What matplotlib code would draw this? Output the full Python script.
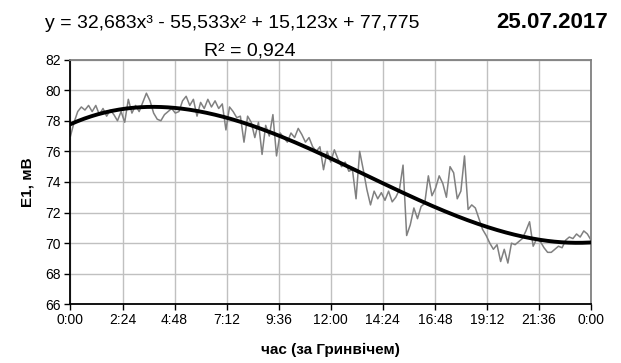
import numpy as np
import matplotlib
matplotlib.use('Agg')
import matplotlib.pyplot as plt

plt.rcParams['font.family'] = ['Liberation Sans', 'DejaVu Sans']

# E1 readings, every 10 minutes from 0:00 to 24:00 (UT), mV
e1_mv = [
    77.0, 77.9, 78.6, 78.9, 78.7, 79.0, 78.6, 79.0, 78.4, 78.8,
    78.3, 78.7, 78.4, 78.0, 78.6, 77.9, 79.4, 78.5, 79.0, 78.6,
    79.2, 79.8, 79.3, 78.5, 78.1, 78.0, 78.4, 78.6, 78.8, 78.5,
    78.6, 79.3, 79.6, 79.0, 79.4, 78.3, 79.2, 78.8, 79.4, 78.9,
    79.3, 78.8, 79.1, 77.4, 78.9, 78.6, 78.2, 78.3, 76.6, 78.3,
    77.9, 76.9, 77.9, 75.8, 77.7, 77.0, 78.4, 75.7, 77.2, 76.9,
    76.6, 77.2, 76.9, 77.5, 77.1, 76.6, 76.9, 76.3, 76.0, 76.3,
    74.8, 76.0, 75.3, 76.1, 75.5, 75.0, 75.3, 74.7, 74.8, 72.9,
    76.0, 74.8, 73.5, 72.5, 73.4, 72.9, 73.3, 72.8, 73.4, 72.7,
    73.0, 73.5, 75.1, 70.5, 71.2, 72.3, 71.6, 72.4, 72.6, 74.4,
    73.1, 73.6, 74.4, 73.9, 73.0, 75.0, 74.6, 72.9, 73.4, 75.7,
    72.2, 72.5, 72.3, 71.6, 70.9, 70.5, 70.0, 69.6, 69.9, 68.8,
    69.6, 68.7, 70.0, 69.9, 70.1, 70.3, 70.8, 71.4, 69.8, 70.3,
    70.1, 69.7, 69.4, 69.4, 69.6, 69.8, 69.7, 70.2, 70.4, 70.3,
    70.6, 70.4, 70.8, 70.6, 70.2,
]

# cubic trend shown on the chart (x = fraction of day)
trend_coefs = [32.683, -55.533, 15.123, 77.775]
r_squared = '0,924'
date_label = '25.07.2017'

x_ticks = np.linspace(0, 1, 11)
x_tick_labels = ['0:00', '2:24', '4:48', '7:12', '9:36', '12:00',
                 '14:24', '16:48', '19:12', '21:36', '0:00']
y_ticks = [66, 68, 70, 72, 74, 76, 78, 80, 82]


def draw_chart():
    fig = plt.figure(figsize=(6.21, 3.63), dpi=100)
    ax = fig.add_axes([0.1135, 0.1615, 0.8382, 0.6745])

    t = np.arange(len(e1_mv)) / (len(e1_mv) - 1)
    ax.plot(t, e1_mv, color='#808080', linewidth=1.1, zorder=2)

    t_fit = np.linspace(0, 1, 300)
    ax.plot(t_fit, np.polyval(trend_coefs, t_fit), color='black',
            linewidth=2.8, zorder=3)

    ax.set_xlim(0, 1)
    ax.set_ylim(66, 82)
    ax.set_xticks(x_ticks)
    ax.set_xticklabels(x_tick_labels)
    ax.set_yticks(y_ticks)
    ax.tick_params(labelsize=10, length=4, width=1, direction='out', pad=3)
    ax.tick_params(axis='x', pad=2)
    ax.grid(color='#c0c0c0', linewidth=1)
    ax.set_axisbelow(True)

    ax.spines['left'].set_color('black')
    ax.spines['bottom'].set_color('black')
    ax.spines['top'].set_color('#808080')
    ax.spines['right'].set_color('#808080')
    for s in ax.spines.values():
        s.set_linewidth(1.3)

    ax.set_xlabel('час (за Гринвічем)', fontsize=11, fontweight='bold', labelpad=12)
    ax.set_ylabel('E1, мВ', fontsize=11, fontweight='bold', labelpad=8)

    eq = 'y = 32,683x³ - 55,533x² + 15,123x + 77,775'
    fig.text(45 / 621, 1 - 28 / 363, eq, fontsize=14, va='baseline', ha='left')
    fig.text(250 / 621, 1 - 56 / 363, 'R² = ' + r_squared, fontsize=14,
             va='baseline', ha='center')
    fig.text(608 / 621, 1 - 28 / 363, date_label, fontsize=16,
             fontweight='bold', va='baseline', ha='right')

    fig.savefig('out.png', dpi=100)


if __name__ == '__main__':
    draw_chart()
